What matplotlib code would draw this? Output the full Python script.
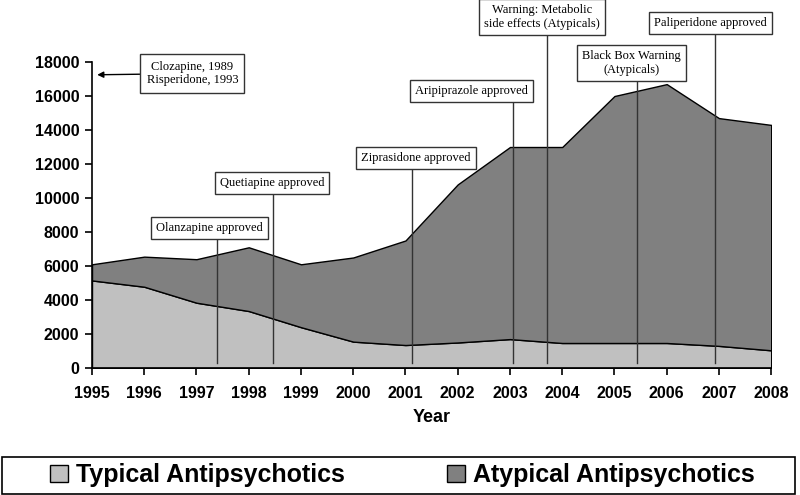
import numpy as np
import matplotlib
matplotlib.use("Agg")
import matplotlib.pyplot as plt
from matplotlib.patches import Patch, Rectangle

# data
years = [1995, 1996, 1997, 1998, 1999, 2000, 2001, 2002, 2003, 2004, 2005, 2006, 2007, 2008]
typical = [5150, 4780, 3840, 3350, 2400, 1550, 1350, 1500, 1700, 1470, 1470, 1470, 1300, 1040]
total = [6100, 6550, 6400, 7100, 6100, 6500, 7500, 10800, 13000, 13000, 16000, 16700, 14700, 14300]
atypical = [t - a for t, a in zip(total, typical)]

event_labels = ["Olanzapine approved", "Quetiapine approved", "Ziprasidone approved",
                "Aripiprazole approved", "Warning: Metabolic\nside effects (Atypicals)",
                "Black Box Warning\n(Atypicals)", "Paliperidone approved"]
event_years = [1997.39, 1998.46, 2001.13, 2003.06, 2003.71, 2005.43, 2006.93]
# where each label box sits (x, y centre) and where its line stops (box bottom)
box_xy = [(1997.25, 8235), (1998.45, 10912), (2001.2, 12353), (2002.27, 16324),
          (2003.61, 20650), (2005.33, 17950), (2006.84, 20294)]
line_top = [7590, 10290, 11700, 15650, 19650, 17000, 19650]

fig = plt.figure(figsize=(8, 4.95), dpi=100)
ax = fig.add_axes([0.115, 0.2566, 0.849, 0.6181])

ax.stackplot(years, typical, atypical, colors=["#c0c0c0", "#808080"],
             edgecolor="black", linewidth=1)

ax.set_xlim(1995, 2008)
ax.set_ylim(0, 18000)
ax.set_xticks(years)
ax.set_yticks(np.arange(0, 18001, 2000))
for s in ["top", "right"]:
    ax.spines[s].set_visible(False)
for s in ["left", "bottom"]:
    ax.spines[s].set_linewidth(1.2)
ax.tick_params(axis="both", length=5, width=1.2, direction="out")
ax.tick_params(axis="x", pad=8)
ax.tick_params(axis="y", pad=4)
for lab in ax.get_xticklabels() + ax.get_yticklabels():
    lab.set_fontfamily("Liberation Sans")
    lab.set_fontweight("bold")
    lab.set_fontsize(11.5)
ax.set_xlabel("Year", fontfamily="Liberation Sans", fontweight="bold", fontsize=13, labelpad=6)

box = dict(boxstyle="square,pad=0.4", facecolor="white", edgecolor="#333333", linewidth=1)

for lab, yr, (bx, by), top in zip(event_labels, event_years, box_xy, line_top):
    ax.plot([yr, yr], [300, top], color="#333333", linewidth=1, clip_on=False)
    ax.text(bx, by, lab, ha="center", va="center", multialignment="center",
            fontfamily="Liberation Serif", fontsize=9, bbox=box, clip_on=False)

ax.annotate("Clozapine, 1989\nRisperidone, 1993", xy=(1995.1, 17250), xytext=(1996.92, 17324),
            ha="center", va="center", multialignment="center",
            fontfamily="Liberation Serif", fontsize=9,
            bbox=dict(boxstyle="square,pad=0.5", facecolor="white", edgecolor="#333333", linewidth=1),
            arrowprops=dict(arrowstyle="-|>", color="black", linewidth=1, shrinkA=0, shrinkB=0))

# legend frame across the bottom
fig.patches.append(Rectangle((0.002, 0.002), 0.992, 0.075, transform=fig.transFigure,
                             facecolor="white", edgecolor="black", linewidth=1.2))
handles = [Patch(facecolor="#c0c0c0", edgecolor="black", label="Typical Antipsychotics"),
           Patch(facecolor="#808080", edgecolor="black", label="Atypical Antipsychotics")]
fig.legend(handles=handles, loc="center", bbox_to_anchor=(0.503, 0.04), ncol=2, frameon=False,
           prop=dict(family="Liberation Sans", weight="bold", size=18),
           handlelength=0.7, handleheight=0.65, handletextpad=0.33, columnspacing=4.1)

fig.savefig("out.png", dpi=100)
